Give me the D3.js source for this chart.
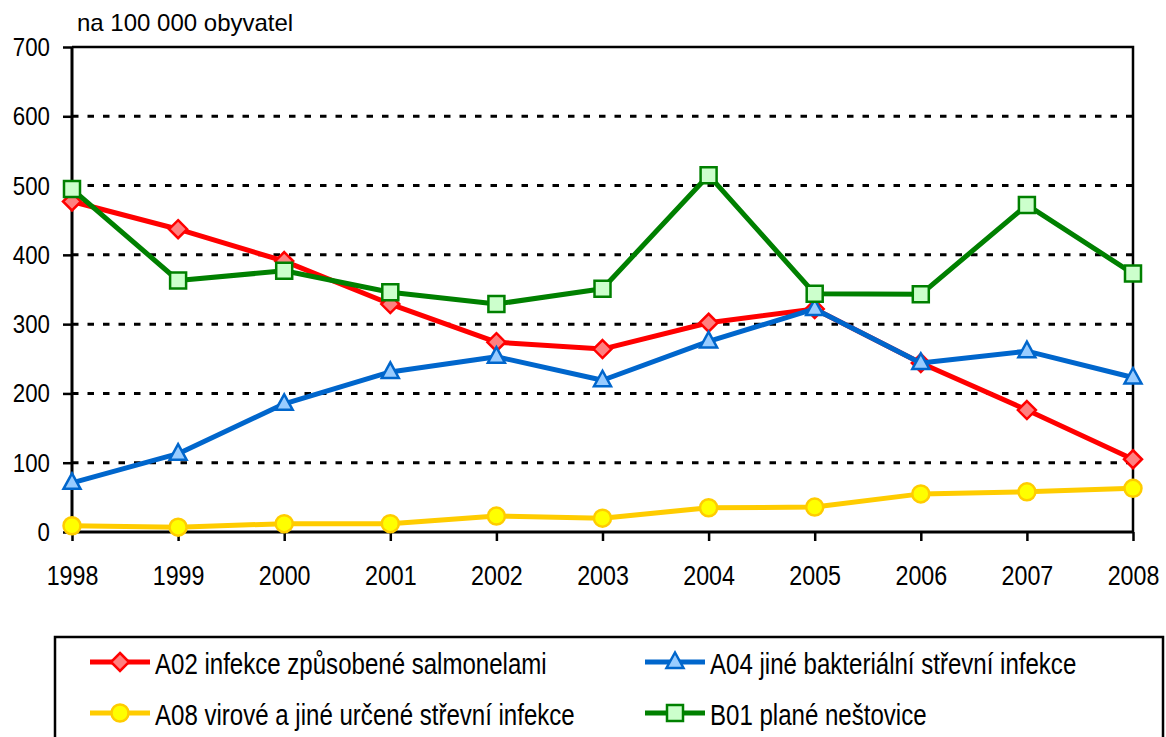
<!DOCTYPE html>
<html>
<head>
<meta charset="utf-8">
<script src="https://cdn.jsdelivr.net/npm/d3@7"></script>
<style>
  html, body { margin: 0; padding: 0; background: #fff; }
  svg { display: block; font-family: "Liberation Sans", Arial, sans-serif; }
</style>
</head>
<body>
<svg id="chart" width="1166" height="737"></svg>
<script>
// ---- data ----
const years = [1998, 1999, 2000, 2001, 2002, 2003, 2004, 2005, 2006, 2007, 2008];
const a02 = [477, 437, 391, 329, 274, 264, 302, 322, 244, 176, 105];
const a04 = [71, 113, 185, 231, 253, 219, 275, 322, 244, 261, 223];
const a08 = [9, 7, 12, 12, 23, 20, 35, 36, 55, 58, 63];
const b01 = [495, 363, 377, 346, 329, 351, 515, 344, 343, 472, 373];
const seriesNames = [
  "A02 infekce způsobené salmonelami",
  "A04 jiné bakteriální střevní infekce",
  "A08 virové a jiné určené střevní infekce",
  "B01 plané neštovice"
];
const yTicks = [0, 100, 200, 300, 400, 500, 600, 700];
const unitLabel = "na 100 000 obyvatel";

(function () {
// ---- setup ----
const svg = d3.select("#chart");
const pL = 72, pR = 1133, pT = 47, pB = 532;
const x = d3.scaleLinear().domain([1998, 2008]).range([pL, pR]);
const y = d3.scaleLinear().domain([0, 700]).range([pB, pT]);
const SX = 0.83;

// gridlines
svg.append("g").selectAll("line")
  .data(yTicks.filter(d => d > 0 && d < 700))
  .join("line")
  .attr("x1", pL).attr("x2", pR)
  .attr("y1", d => y(d)).attr("y2", d => y(d))
  .attr("stroke", "#000").attr("stroke-width", 3)
  .attr("stroke-dasharray", "6.5,9");

// plot border top/right
svg.append("path")
  .attr("d", `M${pL},${y(700)}H${pR}V${pB}`)
  .attr("fill", "none").attr("stroke", "#000").attr("stroke-width", 2.5);

// y axis
const yAxis = svg.append("g").attr("transform", `translate(${pL},0)`)
  .call(d3.axisLeft(y).tickValues(yTicks).tickSize(9).tickFormat(d3.format("d")));
yAxis.select(".domain").attr("stroke-width", 3).attr("d", `M0,${pB}V${pT}`);
yAxis.selectAll(".tick line").attr("stroke-width", 2.5);
yAxis.selectAll(".tick text")
  .attr("x", null)
  .attr("transform", "translate(-22,0) scale(0.84,1)")
  .attr("font-size", 26.5).attr("fill", "#000")
  .attr("font-family", "'Liberation Sans', Arial, sans-serif");

// x axis
const xAxis = svg.append("g").attr("transform", `translate(0,${pB})`)
  .call(d3.axisBottom(x).tickValues(years).tickSize(9).tickFormat(d3.format("d")));
xAxis.select(".domain").attr("stroke-width", 3).attr("d", `M${pL},0H${pR}`);
xAxis.selectAll(".tick line").attr("stroke-width", 2.5);
xAxis.selectAll(".tick text")
  .attr("y", null)
  .attr("transform", `translate(0,33) scale(${SX},1)`)
  .attr("font-size", 28).attr("fill", "#000")
  .attr("font-family", "'Liberation Sans', Arial, sans-serif");

// title
svg.append("text")
  .attr("x", 77).attr("y", 31)
  .attr("font-size", 24).attr("fill", "#000")
  .text(unitLabel);

// ---- series ----
const styles = [
  { data: a02, line: "#FF0000", fill: "#FF8080", stroke: "#FF0000", shape: "diamond" },
  { data: a04, line: "#0066CC", fill: "#99CCFF", stroke: "#0066CC", shape: "triangle" },
  { data: a08, line: "#FFCC00", fill: "#FFFF00", stroke: "#FFCC00", shape: "circle" },
  { data: b01, line: "#008000", fill: "#CCFFCC", stroke: "#008000", shape: "square" }
];

function markerPath(shape) {
  if (shape === "diamond") return "M0,-9L9,0L0,9L-9,0Z";
  if (shape === "triangle") return "M0,-9.5L8.5,6L-8.5,6Z";
  if (shape === "square") return "M-8,-8H8V8H-8Z";
  return d3.symbol().type(d3.symbolCircle).size(Math.PI * 8.5 * 8.5)();
}

const line = d3.line().x((d, i) => x(years[i])).y(d => y(d));

styles.forEach(s => {
  const g = svg.append("g");
  g.append("path")
    .attr("d", line(s.data))
    .attr("fill", "none").attr("stroke", s.line)
    .attr("stroke-width", 5).attr("stroke-linejoin", "round");
  g.selectAll("path.m").data(s.data).join("path")
    .attr("class", "m")
    .attr("d", markerPath(s.shape))
    .attr("transform", (d, i) => `translate(${x(years[i])},${y(d)})`)
    .attr("fill", s.fill).attr("stroke", s.stroke).attr("stroke-width", 2.5);
});

// ---- legend ----
svg.append("rect")
  .attr("x", 55).attr("y", 637).attr("width", 1108).attr("height", 130)
  .attr("fill", "none").attr("stroke", "#000").attr("stroke-width", 2.5);

const legendPos = [
  { lx: 90, ly: 662, tb: 674 },
  { lx: 645, ly: 662, tb: 674 },
  { lx: 90, ly: 713, tb: 725 },
  { lx: 645, ly: 713, tb: 725 }
];
styles.forEach((s, i) => {
  const p = legendPos[i];
  const g = svg.append("g");
  g.append("line")
    .attr("x1", p.lx).attr("x2", p.lx + 60)
    .attr("y1", p.ly).attr("y2", p.ly)
    .attr("stroke", s.line).attr("stroke-width", 5);
  g.append("path")
    .attr("d", markerPath(s.shape))
    .attr("transform", `translate(${p.lx + 30},${p.ly})`)
    .attr("fill", s.fill).attr("stroke", s.stroke).attr("stroke-width", 2.5);
  g.append("text")
    .attr("transform", `translate(${p.lx + 65},${p.tb}) scale(${SX},1)`)
    .attr("font-size", 29).attr("fill", "#000")
    .text(seriesNames[i]);
});
})();
</script>
</body>
</html>
